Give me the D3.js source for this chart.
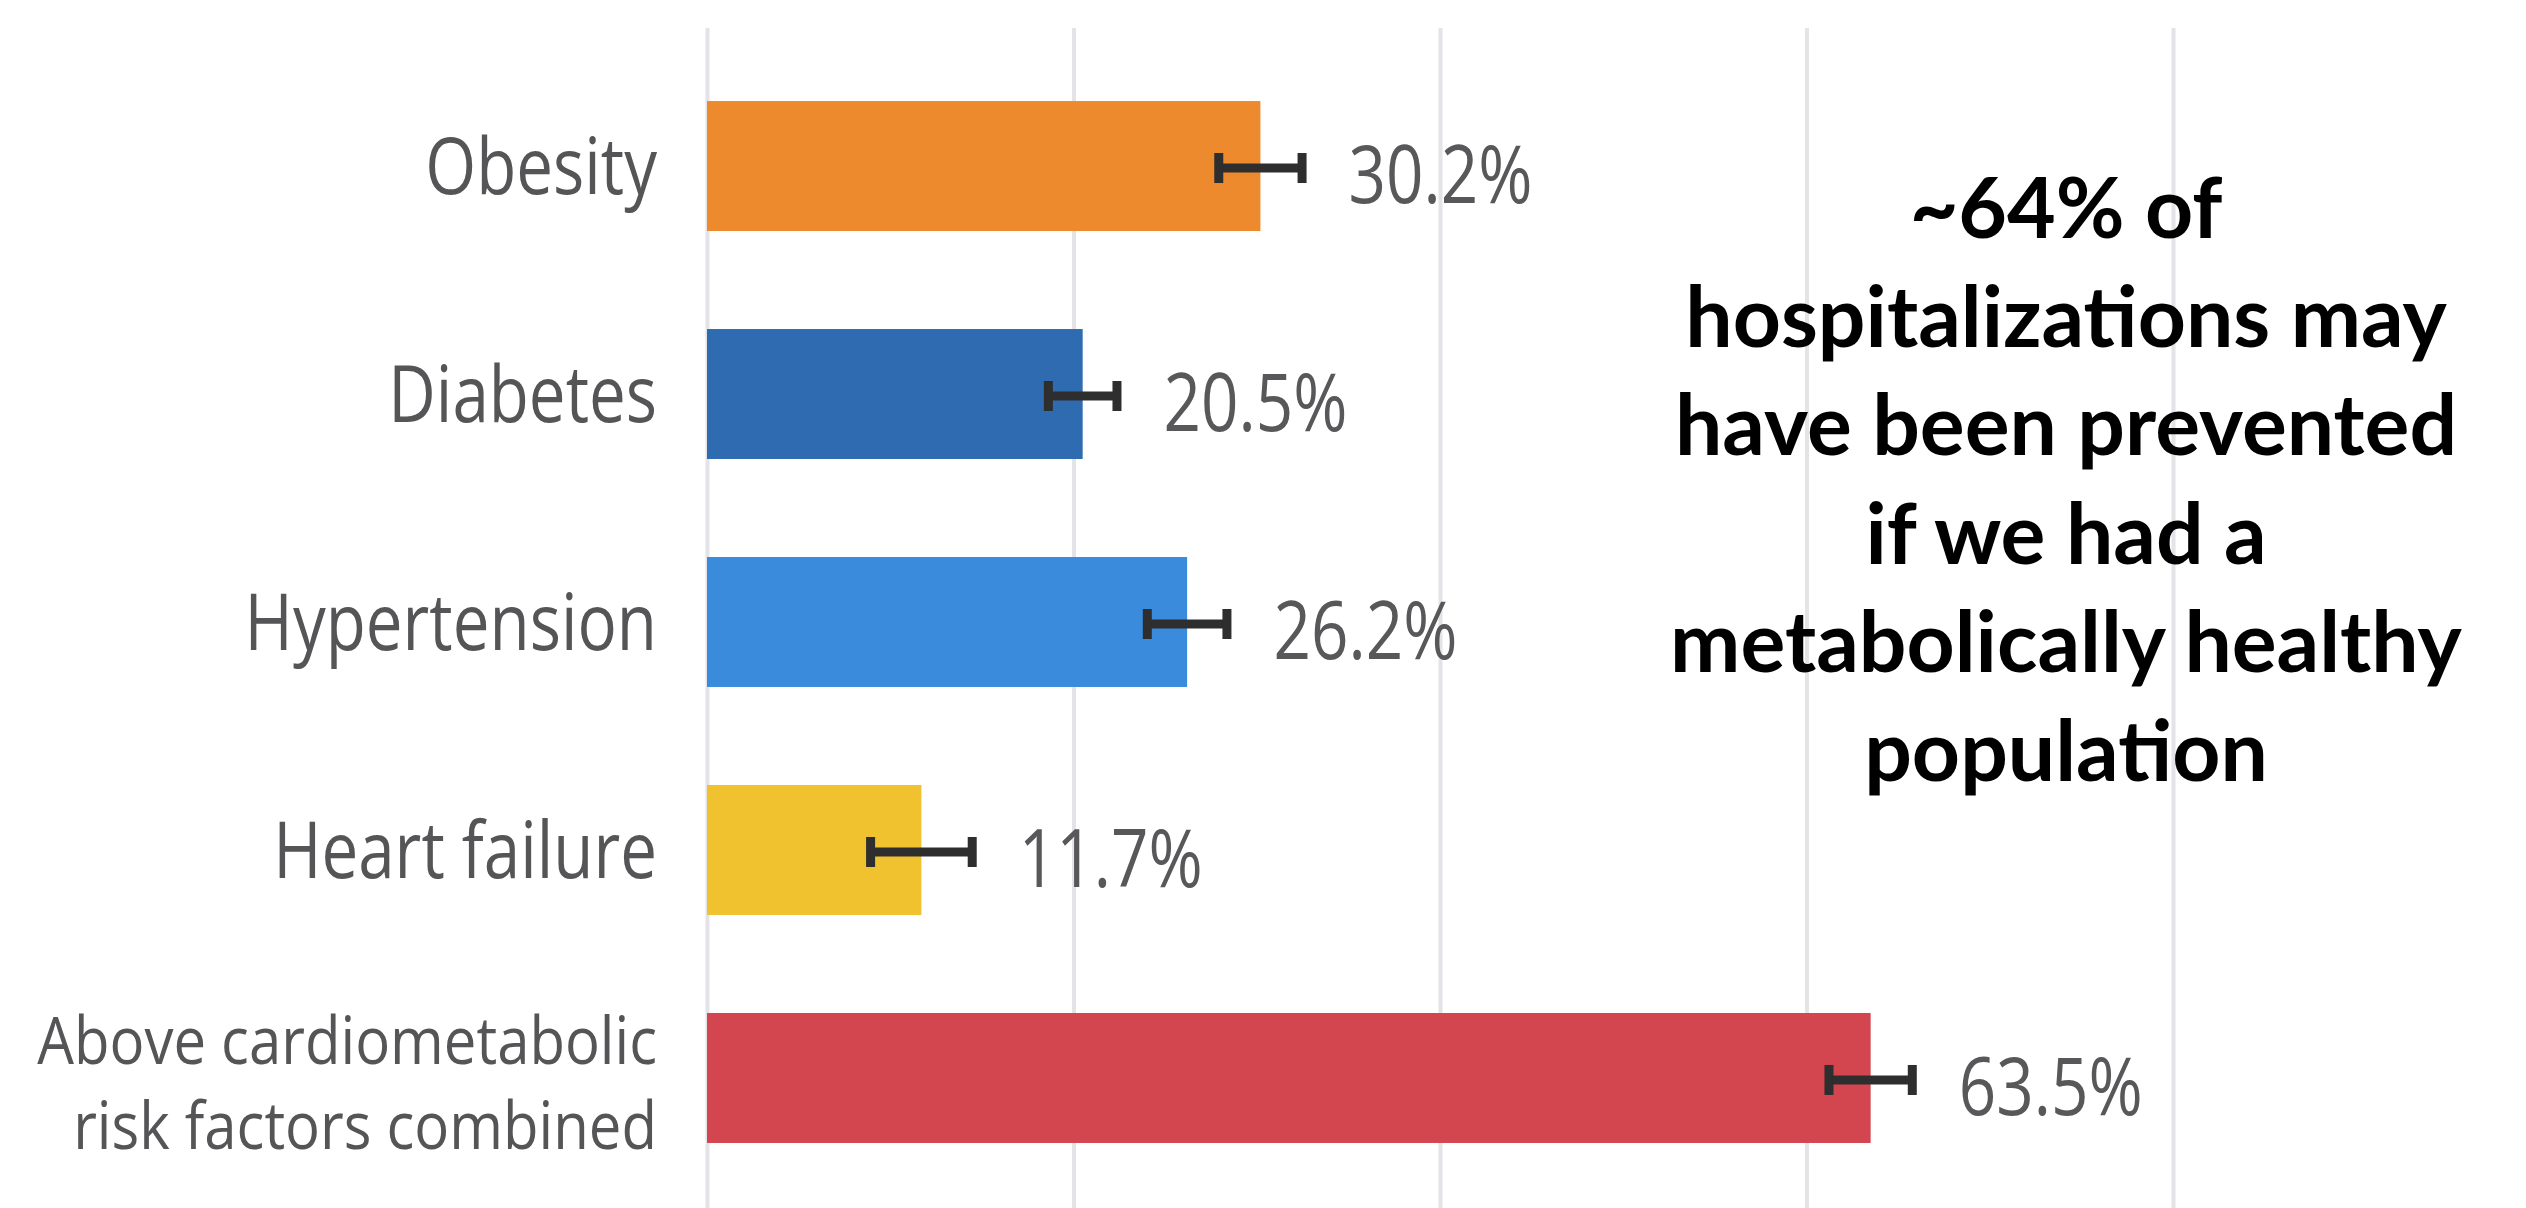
<!DOCTYPE html>
<html>
<head>
<meta charset="utf-8">
<script src="https://cdn.jsdelivr.net/npm/d3@7"></script>
<style>
  html, body { margin: 0; padding: 0; background: #fff; }
  svg { display: block; }
</style>
</head>
<body>
<div id="chart"></div>
<script>
// values
const categories = ['Obesity', 'Diabetes', 'Hypertension', 'Heart failure',
    'Above cardiometabolic\nrisk factors combined'];
const values = [30.2, 20.5, 26.2, 11.7, 63.5];
const ciLow = [27.9, 18.6, 24.0, 8.9, 61.2];
const ciHigh = [32.5, 22.4, 28.4, 14.5, 65.8];
const barColors = ['#ee8a2e', '#2e6bb0', '#3b8bdd', '#f0c22f', '#d3454f'];
const gridTicks = [0, 20, 40, 60, 80];
const noteLines = ['~64% of', 'hospitalizations may', 'have been prevented',
    'if we had a', 'metabolically healthy', 'population'];

const width = 2526;
const height = 1208;
const gridTop = 28;

const svg = d3.select('#chart').append('svg')
    .attr('width', width)
    .attr('height', height)
    .style('background', '#fff');

const xScale = d3.scaleLinear()
    .domain([0, 80])
    .range([707, 2173]);

const yScale = d3.scaleBand()
    .domain(categories)
    .range([3, 1241])
    .paddingInner(0.43)
    .paddingOuter(0.43);

const bw = yScale.bandwidth();
const rows = categories.map((c, i) => ({
    cat: c, value: values[i], lo: ciLow[i], hi: ciHigh[i], color: barColors[i],
    cy: yScale(c) + bw / 2
}));

// vertical grid lines
const grid = svg.append('g')
    .attr('class', 'grid')
    .attr('transform', `translate(0, ${gridTop})`)
    .call(d3.axisTop(xScale)
        .tickValues(gridTicks)
        .tickSize(-(height - gridTop))
        .tickFormat(''));
grid.select('.domain').remove();
grid.selectAll('line')
    .attr('stroke', '#e4e4e8')
    .attr('stroke-width', 4);

// bars
svg.append('g').attr('class', 'bars')
    .selectAll('rect')
    .data(rows)
    .join('rect')
    .attr('x', xScale(0))
    .attr('y', d => yScale(d.cat))
    .attr('width', d => xScale(d.value) - xScale(0))
    .attr('height', bw)
    .attr('fill', d => d.color);

// error bars
const err = svg.append('g').attr('class', 'errors')
    .selectAll('g')
    .data(rows)
    .join('g')
    .attr('transform', d => `translate(0, ${d.cy + 2})`);
err.append('line')
    .attr('x1', d => xScale(d.lo))
    .attr('x2', d => xScale(d.hi))
    .attr('stroke', '#2e2e2e')
    .attr('stroke-width', 9);
err.append('rect')
    .attr('x', d => xScale(d.lo) - 4)
    .attr('y', -15)
    .attr('width', 9)
    .attr('height', 30)
    .attr('fill', '#2e2e2e');
err.append('rect')
    .attr('x', d => xScale(d.hi) - 5)
    .attr('y', -15)
    .attr('width', 9)
    .attr('height', 30)
    .attr('fill', '#2e2e2e');

// value labels
svg.append('g').attr('class', 'values')
    .selectAll('g')
    .data(rows)
    .join('g')
    .attr('transform', d => `translate(${xScale(d.hi) + 46}, ${d.cy + 37}) scale(0.82, 1)`)
    .append('text')
    .attr('font-family', '"Open Sans", sans-serif')
    .attr('font-weight', 500)
    .attr('font-size', 80)
    .attr('fill', '#58585a')
    .text(d => d.value.toFixed(1) + '%');

// category labels
svg.append('g').attr('class', 'labels')
    .selectAll('g')
    .data(rows)
    .join('g')
    .each(function (d) {
        const lines = d.cat.split('\n');
        const multi = lines.length > 1;
        const fs = multi ? 66 : 78;
        const sx = multi ? 0.88 : 0.84;
        const lh = 85;
        const first = d.cy - (lines.length - 1) * lh / 2 + 0.36 * fs + (multi ? 5 : 0);
        const g = d3.select(this)
            .attr('transform', `translate(657, ${first}) scale(${sx}, 1)`);
        g.selectAll('text')
            .data(lines)
            .join('text')
            .attr('y', (l, i) => i * lh)
            .attr('text-anchor', 'end')
            .attr('font-family', '"Open Sans", sans-serif')
            .attr('font-weight', 500)
            .attr('font-size', fs)
            .attr('fill', '#555557')
            .text(l => l);
    });

// annotation
svg.append('g').attr('class', 'note')
    .selectAll('text')
    .data(noteLines)
    .join('text')
    .attr('x', 2066)
    .attr('y', (l, i) => 238 + i * 108.6)
    .attr('text-anchor', 'middle')
    .attr('font-family', 'Lato, sans-serif')
    .attr('font-weight', 700)
    .attr('font-size', 84)
    .attr('fill', '#000')
    .text(l => l);
</script>
</body>
</html>
